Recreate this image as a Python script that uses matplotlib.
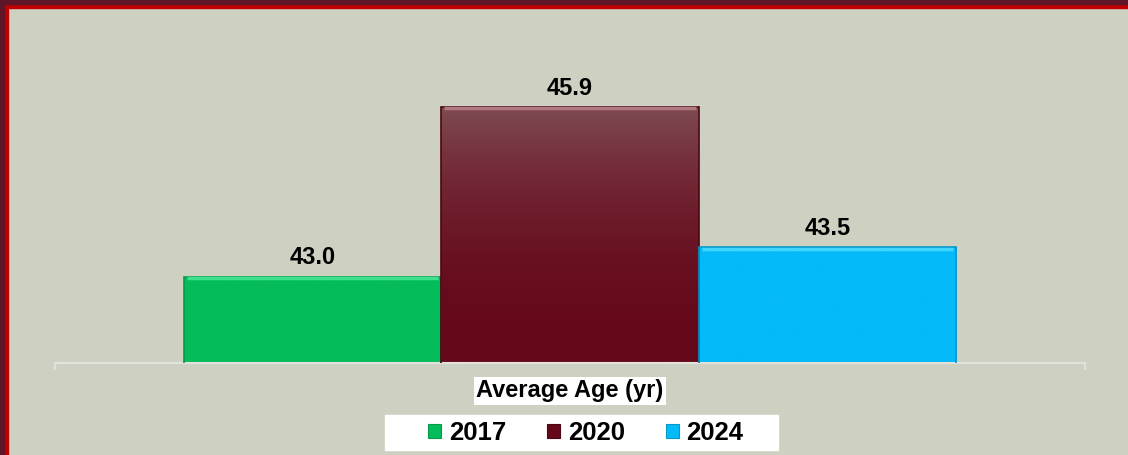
import matplotlib
matplotlib.use('Agg')
import matplotlib.pyplot as plt
import numpy as np
from matplotlib.colors import LinearSegmentedColormap
from matplotlib.patches import Rectangle

#%% data
years = ['2017', '2020', '2024']
avg_age = [43.0, 45.9, 43.5]
axis_title = 'Average Age (yr)'

#%% styles
bg = '#CED1C2'
colours = ['#05BC5A', '#65081A', '#05BAF9']        # main fill (bottom of gradient)
top_cols = ['#05BC5A', '#7F4B51', '#05BAF9']       # top of gradient (only maroon really fades)
shine = ['#3FE08C', '#B07A80', '#40D6FF']          # bevel highlight on top edge
edge_cols = ['#079A4B', '#4A0613', '#0A96C8']
plt.rcParams['font.family'] = ['Liberation Sans', 'DejaVu Sans']
plt.rcParams['font.weight'] = 'bold'

W, H = 1128, 455
fig = plt.figure(figsize=(W / 100, H / 100), dpi=100, facecolor=bg)

# red frame (top + left only, the rest is cut off)
fig.patches.append(Rectangle((0, 1 - 8 / H), 1, 8 / H, transform=fig.transFigure, color='#C00000', zorder=0))
fig.patches.append(Rectangle((0, 0), 8 / W, 1, transform=fig.transFigure, color='#C00000', zorder=0))
fig.patches.append(Rectangle((0, 1 - 4 / H), 1, 4 / H, transform=fig.transFigure, color='#5E1628', zorder=1))
fig.patches.append(Rectangle((0, 0), 4 / W, 1, transform=fig.transFigure, color='#5E1628', zorder=1))

ax = fig.add_axes([55 / W, (H - 363) / H, (1085 - 55) / W, 352 / H])
ax.set_facecolor(bg)
ymin, ymax = 41.52, 47.55

width = 0.25
x = [(i - 1) * width for i in range(len(years))]
bars = ax.bar(x, avg_age, width=width, color=colours, linewidth=0, zorder=2)

# vertical gradient inside each bar, light concentrated near the top
grad = np.linspace(0, 1, 256).reshape(-1, 1) ** 2.2
for b, c_top, c_main, c_sh in zip(bars, top_cols, colours, shine):
    cmap = LinearSegmentedColormap.from_list('g', [c_main, c_top])
    x0 = b.get_x()
    im = ax.imshow(grad, extent=[x0, x0 + b.get_width(), ymin, b.get_height()], origin='lower',
                   aspect='auto', cmap=cmap, zorder=2.5)
    im.set_clip_path(b)

# outlines on top of the gradients
ax.bar(x, avg_age, width=width, facecolor='none', edgecolor=edge_cols, linewidth=1.2, zorder=3.5)
for b, c_sh in zip(bars, shine):
    x0 = b.get_x()
    ax.plot([x0 + 0.003, x0 + b.get_width() - 0.003], [b.get_height() - 0.02] * 2,
            color=c_sh, lw=2.5, zorder=4, solid_capstyle='butt')

ax.set_xlim(-0.5, 0.5)
ax.set_ylim(ymin, ymax)
ax.bar_label(bars, fmt='%.1f', padding=5.5, fontsize=17, fontweight='bold', color='black')

for s in ['top', 'left', 'right']:
    ax.spines[s].set_visible(False)
ax.spines['bottom'].set_color('#E2E2DA')
ax.spines['bottom'].set_linewidth(1.5)
ax.set_yticks([])
ax.set_xticks([-0.5, 0.5])
ax.set_xticklabels([])
ax.tick_params(axis='x', length=5, width=1.5, color='#E2E2DA')

fig.text(570 / W, 1 - 391 / H, axis_title, ha='center', va='center', fontsize=17, fontweight='bold',
         bbox=dict(facecolor='white', edgecolor='none', boxstyle='square,pad=0.12'))

# legend on a white strip
fig.patches.append(Rectangle((385 / W, 1 - 450 / H), (778 - 385) / W, 35 / H, transform=fig.transFigure,
                             color='white', zorder=1))
leg = fig.legend(bars, years, loc='center', bbox_to_anchor=(586 / W, 1 - 433 / H), ncol=3, frameon=False,
                 fontsize=18.5, handlelength=0.5, handleheight=0.5, handletextpad=0.3,
                 columnspacing=1.6, borderpad=0.1)
for h, c in zip(leg.legend_handles, edge_cols):
    h.set_edgecolor(c)
    h.set_linewidth(0.8)

fig.savefig('out.png', dpi=100, facecolor=bg)
